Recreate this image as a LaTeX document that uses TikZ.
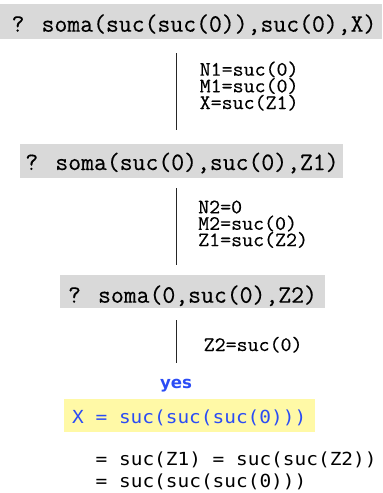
\documentclass[tikz,border=0pt]{standalone}
\usepackage{fontspec}
\newfontfamily\gmono[FakeBold=0.35]{Latin Modern Mono}
\newfontfamily\lmono[FakeBold=0.35,FakeStretch=1.04]{Latin Modern Mono}
\newfontfamily\smono[FakeStretch=1.08]{DejaVu Sans Mono}
\newfontfamily\yesfont{DejaVu Sans}
\definecolor{goalgray}{HTML}{D9D9D9}
\definecolor{ansyellow}{HTML}{FFF9A6}
\definecolor{ansblue}{HTML}{2B4CF5}
\begin{document}
\begin{tikzpicture}[x=1pt,y=-1pt,
  goalbox/.style={fill=goalgray,draw=none,inner sep=0pt,anchor=north west},
  goaltext/.style={font=\fontsize{25}{25}\selectfont\gmono,inner sep=0pt,anchor=base},
  subst/.style={font=\fontsize{20.5}{16.3}\selectfont\lmono,inner sep=0pt,anchor=base west},
  branch/.style={line width=0.8pt,black!85},
  anstext/.style={font=\fontsize{18}{22}\selectfont\smono,inner sep=0pt,anchor=base west}]
\useasboundingbox (0,0) rectangle (383,493);

% goal boxes
\node[goalbox,minimum width=382pt,minimum height=35pt] (b1) at (0,4) {};
\node[goaltext] (g1) at (194,31.7) {? soma(suc(suc(0)),suc(0),X)};
\node[goalbox,minimum width=323pt,minimum height=34pt] (b2) at (20,144) {};
\node[goaltext] (g2) at (182,170) {? soma(suc(0),suc(0),Z1)};
\node[goalbox,minimum width=265pt,minimum height=33pt] (b3) at (60,275) {};
\node[goaltext] (g3) at (192.5,302.7) {? soma(0,suc(0),Z2)};

% derivation branches
\coordinate (t1) at (176,53);  \coordinate (e1) at (176,130);
\coordinate (t2) at (176,188); \coordinate (e2) at (176,265);
\coordinate (t3) at (176,320); \coordinate (e3) at (176,363);
\draw[branch] (t1) -- (e1);
\draw[branch] (t2) -- (e2);
\draw[branch] (t3) -- (e3);

% unifiers
\node[subst] (s1a) at (199.5,75.7) {N1=suc(0)};
\node[subst] (s1b) at (199.5,92.3) {M1=suc(0)};
\node[subst] (s1c) at (199.5,109)  {X=suc(Z1)};
\node[subst] (s2a) at (198,213.3) {N2=0};
\node[subst] (s2b) at (198,229.8) {M2=suc(0)};
\node[subst] (s2c) at (198,246.2) {Z1=suc(Z2)};
\node[subst] (s3)  at (203.5,351) {Z2=suc(0)};

% answer
\node[font=\fontsize{16.6}{16.6}\selectfont\yesfont\bfseries,text=ansblue,inner sep=0pt,anchor=base] (yes) at (176,388) {yes};
\node[fill=ansyellow,inner sep=0pt,anchor=north west,minimum width=251pt,minimum height=33pt] (ab) at (64,399) {};
\node[anstext,text=ansblue] (ans) at (72,423.3) {X = suc(suc(suc(0)))};
\node[anstext] (calc1) at (95.5,465) {= suc(Z1) = suc(suc(Z2))};
\node[anstext] (calc2) at (95.5,487.5) {= suc(suc(suc(0)))};
\end{tikzpicture}
\end{document}
